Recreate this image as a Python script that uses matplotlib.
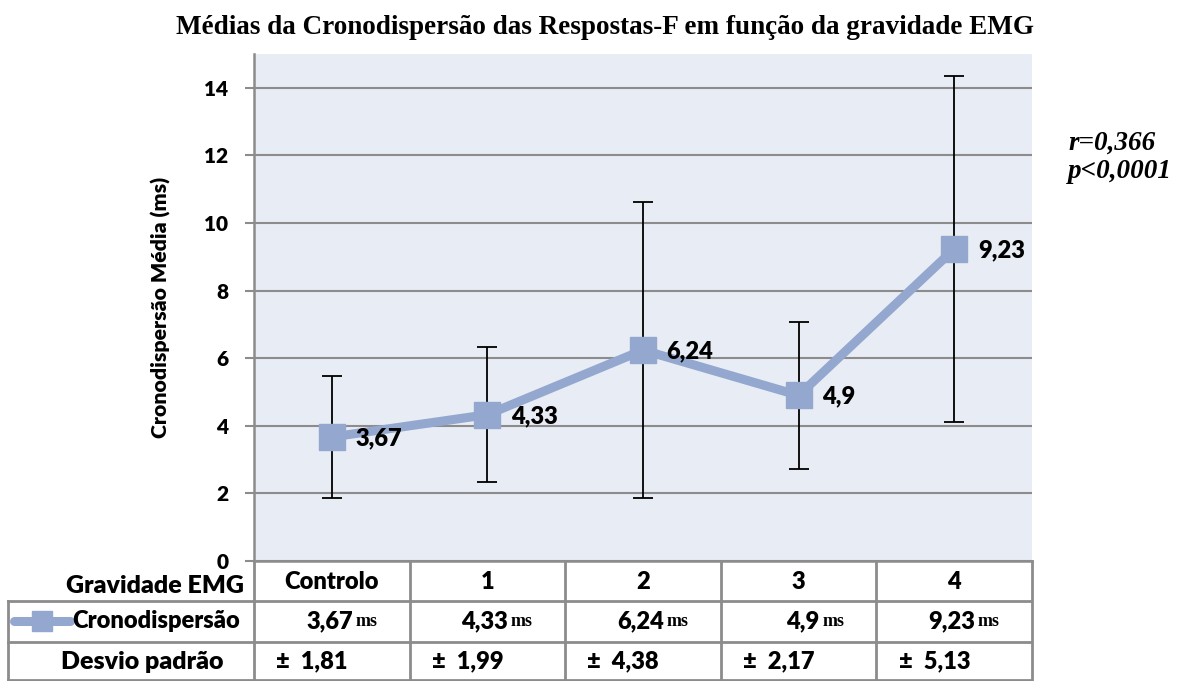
import matplotlib.pyplot as plt
import matplotlib.transforms as mtransforms
from matplotlib.lines import Line2D

# data
categorias = ['Controlo', '1', '2', '3', '4']
medias = [3.67, 4.33, 6.24, 4.9, 9.23]
desvios = [1.81, 1.99, 4.38, 2.17, 5.13]
rotulos_media = ['3,67', '4,33', '6,24', '4,9', '9,23']
rotulos_desvio = ['1,81', '1,99', '4,38', '2,17', '5,13']
yticks = [0, 2, 4, 6, 8, 10, 12, 14]

cor_linha = '#93A7CF'
cor_grelha = '#8C8C8C'
fundo = '#E8ECF4'
sans = 'Lato'
serif = 'Liberation Serif'
peso = 'heavy'
fs = 17

W, H = 1184, 681
fig = plt.figure(figsize=(W / 100, H / 100), dpi=100)


def fx(px):
    return px / W


def fy(py):
    return 1 - py / H


ax = fig.add_axes([fx(254), fy(561), fx(1032) - fx(254), fy(54) - fy(561)])
ax.set_facecolor(fundo)
x = list(range(len(categorias)))

ax.errorbar(x, medias, yerr=desvios, fmt='none', ecolor='black',
            elinewidth=1.3, capsize=7, capthick=1.3, zorder=2)
ax.plot(x, medias, color=cor_linha, lw=6.5, marker='s', ms=18.5,
        mfc=cor_linha, mec=cor_linha, zorder=3)

for xi, yi, lab in zip(x, medias, rotulos_media):
    ax.annotate(lab, (xi, yi), xytext=(17, -1), textcoords='offset points',
                ha='left', va='center', fontsize=fs, fontweight=peso,
                family=sans, zorder=4)

ax.set_xlim(-0.5, len(categorias) - 0.5)
ax.set_ylim(0, 15)
ax.set_yticks(yticks)
ax.set_yticklabels([str(t) for t in yticks], fontsize=15, fontweight=peso, family=sans)
ax.set_xticks([])
ax.yaxis.grid(True, color=cor_grelha, lw=1.5)
ax.set_axisbelow(True)
for s in ['top', 'right']:
    ax.spines[s].set_visible(False)
for s in ['left', 'bottom']:
    ax.spines[s].set_color(cor_grelha)
    ax.spines[s].set_linewidth(1.8)
ax.tick_params(axis='y', length=6.5, width=1.5, color=cor_grelha, pad=12)

ax.set_ylabel('Cronodispersão Média (ms)', fontsize=15.3, fontweight=peso,
              family=sans, labelpad=24)

fig.text(fx(605), fy(27), 'Médias da Cronodispersão das Respostas-F em função da gravidade EMG',
         ha='center', va='center', fontsize=19.5, fontweight='bold', family=serif)
fig.text(fx(1068), fy(143), 'r=0,366', ha='left', va='center', fontsize=19.5,
         fontweight='bold', style='italic', family=serif)
fig.text(fx(1068), fy(172), 'p<0,0001', ha='left', va='center', fontsize=19.5,
         fontweight='bold', style='italic', family=serif)

# table under the chart
trans = mtransforms.blended_transform_factory(ax.transData, fig.transFigure)
lkw = dict(color=cor_grelha, lw=2, clip_on=False)
for b in [i - 0.5 for i in range(len(categorias) + 1)]:
    fig.add_artist(Line2D([b, b], [fy(561), fy(681)], transform=trans, **lkw))
for py in [601, 642, 680]:
    fig.add_artist(Line2D([fx(8), fx(1031)], [fy(py), fy(py)], **lkw))
fig.add_artist(Line2D([fx(8), fx(8)], [fy(601), fy(681)], **lkw))

fig.text(fx(244), fy(586), 'Gravidade EMG', ha='right', va='center',
         fontsize=18, fontweight=peso, family=sans)
fig.text(fx(142), fy(662), 'Desvio padrão', ha='center', va='center',
         fontsize=18, fontweight=peso, family=sans)
fig.text(fx(72), fy(621), 'Cronodispersão', ha='left', va='center',
         fontsize=fs, fontweight=peso, family=sans)
fig.add_artist(Line2D([fx(14), fx(70)], [fy(621), fy(621)], color=cor_linha,
                      lw=6.5, solid_capstyle='round'))
fig.add_artist(Line2D([fx(42)], [fy(621)], color=cor_linha, marker='s', ms=15))

for xi, cat, lab, d in zip(x, categorias, rotulos_media, rotulos_desvio):
    fig.text(xi, fy(582), cat, transform=trans, ha='center', va='center',
             fontsize=fs, fontweight=peso, family=sans)
    t1 = mtransforms.offset_copy(trans, fig=fig, x=15, y=0, units='points')
    fig.text(xi, fy(621), lab, transform=t1, ha='right', va='center',
             fontsize=fs, fontweight=peso, family=sans)
    t2 = mtransforms.offset_copy(trans, fig=fig, x=17, y=0, units='points')
    fig.text(xi, fy(622), 'ms', transform=t2, ha='left', va='center',
             fontsize=13, fontweight='bold', family=serif)
    t3 = mtransforms.offset_copy(trans, fig=fig, x=16, y=0, units='points')
    fig.text(xi - 0.5, fy(661), '±  ' + d, transform=t3, ha='left', va='center',
             fontsize=fs, fontweight=peso, family=sans)

fig.savefig('out.png', dpi=100)
